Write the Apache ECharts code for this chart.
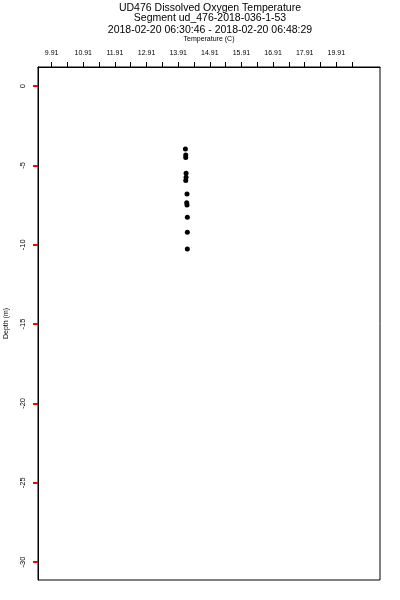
<!DOCTYPE html>
<html>
<head>
<meta charset="utf-8">
<script src="https://cdn.jsdelivr.net/npm/echarts@6/dist/echarts.min.js"></script>
<style>
html,body{margin:0;padding:0;background:#fff;}
#chart{width:400px;height:600px;}
</style>
</head>
<body>
<div id="chart"></div>
<script>
// Data: temperature (C) and depth (m)
var temperature = [14.14, 14.15, 14.15, 14.16, 14.16, 14.15, 14.19, 14.18, 14.19, 14.20, 14.20, 14.20];
var depth       = [-3.97, -4.35, -4.50, -5.50, -5.75, -5.95, -6.80, -7.35, -7.50, -8.27, -9.22, -10.27];

// Axis ticks and labels
var xTickValues  = [9.91, 10.41, 10.91, 11.41, 11.91, 12.41, 12.91, 13.41, 13.91, 14.41, 14.91, 15.41, 15.91, 16.41, 16.91, 17.41, 17.91, 18.41, 18.91, 19.41];
var xLabelValues = [9.91, 10.91, 11.91, 12.91, 13.91, 14.91, 15.91, 16.91, 17.91, 18.91];
var xLabelTexts  = ['9.91', '10.91', '11.91', '12.91', '13.91', '14.91', '15.91', '16.91', '17.91', '19.91'];
var yTickValues  = [0, -5, -10, -15, -20, -25, -30];
var yLabelTexts  = ['0', '-5', '-10', '-15', '-20', '-25', '-30'];

var titles = ['UD476 Dissolved Oxygen Temperature', 'Segment ud_476-2018-036-1-53', '2018-02-20 06:30:46 - 2018-02-20 06:48:29'];

var points = temperature.map(function (t, i) { return [t, depth[i]]; });

var FONT = 'Liberation Sans, Arial, sans-serif';
var TSTYLE = { fontFamily: FONT, fontSize: 10.5, fontWeight: 'normal', color: '#000' };
var chart = echarts.init(document.getElementById('chart'));
chart.setOption({
  animation: false,
  backgroundColor: '#fff',
  title: [
    { text: titles[0], left: 210, top: 3, padding: 0, textAlign: 'center', textStyle: TSTYLE },
    { text: titles[1], left: 210, top: 13, padding: 0, textAlign: 'center', textStyle: TSTYLE },
    { text: titles[2], left: 210, top: 25, padding: 0, textAlign: 'center', textStyle: TSTYLE }
  ],
  grid: { left: 38, top: 67, width: 342, height: 513, outerBoundsMode: 'none', show: true, borderColor: '#000', borderWidth: 1 },
  xAxis: {
    type: 'value', position: 'top', min: 9.48, max: 20.29,
    name: 'Temperature (C)', nameLocation: 'middle', nameGap: 24,
    nameTextStyle: { fontFamily: FONT, fontSize: 7, color: '#000' },
    axisLine: { show: true, onZero: false, lineStyle: { color: '#000', width: 1 } },
    axisTick: { show: true, customValues: xTickValues, length: 5, lineStyle: { color: '#000', width: 1 } },
    axisLabel: {
      customValues: xLabelValues, margin: 10, fontFamily: FONT, fontSize: 7, color: '#000',
      formatter: function (v) {
        for (var i = 0; i < xLabelValues.length; i++) { if (Math.abs(xLabelValues[i] - v) < 1e-6) return xLabelTexts[i]; }
        return '';
      }
    },
    splitLine: { show: false }
  },
  yAxis: {
    type: 'value', min: -31.13, max: 1.2,
    name: 'Depth (m)', nameLocation: 'middle', nameGap: 28, nameRotate: 90,
    nameTextStyle: { fontFamily: FONT, fontSize: 7, color: '#000' },
    axisLine: { show: true, onZero: false, lineStyle: { color: '#000', width: 1 } },
    axisTick: { show: true, customValues: yTickValues, length: 5, lineStyle: { color: '#ff0000', width: 2 } },
    axisLabel: {
      customValues: yTickValues, margin: 11, rotate: 90, fontFamily: FONT, fontSize: 7.5, color: '#000',
      formatter: function (v) {
        for (var i = 0; i < yTickValues.length; i++) { if (Math.abs(yTickValues[i] - v) < 1e-6) return yLabelTexts[i]; }
        return '';
      }
    },
    splitLine: { show: false }
  },
  series: [{
    type: 'scatter',
    data: points,
    symbol: 'circle',
    symbolSize: 5,
    itemStyle: { color: '#000', opacity: 1 }
  }]
});
</script>
</body>
</html>
